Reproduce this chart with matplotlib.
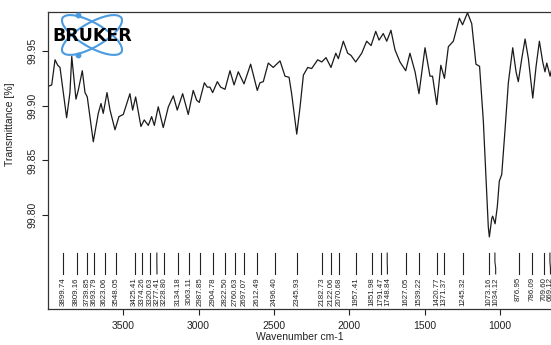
import matplotlib
matplotlib.use("Agg")
import matplotlib.pyplot as plt
import matplotlib.transforms as mtransforms
from matplotlib.patches import Ellipse
import numpy as np

plt.rcParams["font.family"] = ["Liberation Sans", "DejaVu Sans"]

# Spectrum (wavenumber in cm-1, transmittance in %)
wavenumber = [
    3993, 3975, 3953, 3935, 3920, 3876, 3854, 3842, 3825, 3814, 3799, 3772,
    3754, 3739, 3699, 3666, 3648, 3633, 3608, 3588, 3555, 3529, 3500, 3456,
    3438, 3418, 3383, 3361, 3334, 3312, 3294, 3268, 3235, 3201, 3168, 3142,
    3106, 3069, 3036, 3013, 2996, 2962, 2943, 2925, 2907, 2876, 2854, 2825,
    2792, 2765, 2737, 2699, 2655, 2611, 2593, 2571, 2538, 2505, 2460, 2427,
    2400, 2383, 2349, 2327, 2305, 2276, 2250, 2210, 2183, 2155, 2122, 2090,
    2073, 2040, 2011, 1989, 1958, 1918, 1885, 1856, 1825, 1803, 1775, 1752,
    1724, 1697, 1664, 1626, 1598, 1564, 1538, 1498, 1465, 1448, 1420, 1393,
    1369, 1343, 1310, 1270, 1249, 1216, 1188, 1160, 1136, 1111, 1093, 1078,
    1071, 1055, 1049, 1033, 1018, 1005, 989, 967, 945, 916, 894, 879,
    856, 834, 812, 783, 761, 739, 717, 702, 690, 668, 655,
]
transmittance = [
    99.918, 99.919, 99.942, 99.937, 99.935, 99.889, 99.912, 99.945, 99.921, 99.906, 99.914, 99.932,
    99.912, 99.908, 99.867, 99.893, 99.902, 99.893, 99.912, 99.896, 99.878, 99.890, 99.892, 99.911,
    99.896, 99.908, 99.881, 99.887, 99.882, 99.890, 99.882, 99.899, 99.880, 99.899, 99.909, 99.896,
    99.911, 99.892, 99.914, 99.905, 99.903, 99.921, 99.917, 99.917, 99.912, 99.922, 99.917, 99.915,
    99.932, 99.919, 99.931, 99.920, 99.938, 99.914, 99.921, 99.922, 99.939, 99.935, 99.941, 99.927,
    99.926, 99.911, 99.874, 99.899, 99.928, 99.935, 99.934, 99.942, 99.940, 99.944, 99.935, 99.948,
    99.943, 99.959, 99.948, 99.946, 99.940, 99.948, 99.959, 99.955, 99.968, 99.960, 99.966, 99.959,
    99.969, 99.951, 99.940, 99.932, 99.948, 99.931, 99.911, 99.953, 99.927, 99.927, 99.901, 99.937,
    99.925, 99.954, 99.959, 99.980, 99.974, 99.985, 99.975, 99.938, 99.936, 99.886, 99.832, 99.789,
    99.780, 99.797, 99.799, 99.792, 99.808, 99.831, 99.837, 99.878, 99.921, 99.953, 99.931, 99.922,
    99.943, 99.961, 99.943, 99.907, 99.936, 99.959, 99.940, 99.931, 99.939, 99.927, 99.935,
]

# Picked peaks
peak_labels = [
    "3899.74", "3809.16", "3739.85", "3693.79", "3623.06", "3548.05",
    "3425.41", "3374.26", "3320.63", "3277.41", "3228.80", "3134.18",
    "3063.11", "2987.85", "2904.78", "2822.50", "2760.63", "2697.07",
    "2612.49", "2496.40", "2345.93", "2182.73", "2122.06", "2070.68",
    "1957.41", "1851.98", "1791.47", "1748.84", "1627.05", "1539.22",
    "1420.77", "1371.37", "1245.32", "1073.16", "1034.12", "876.95",
    "786.09", "709.60", "669.12",
]
peak_positions = [float(s) for s in peak_labels]

x_ticks = [3500, 3000, 2500, 2000, 1500, 1000]
y_ticks = [99.80, 99.85, 99.90, 99.95]

fig = plt.figure(figsize=(5.51, 3.45), dpi=100)
ax = fig.add_axes([0.0870, 0.1035, 0.9130, 0.8617])

ax.plot(wavenumber, transmittance, color="#1a1a1a", lw=0.9)

ax.set_xlim(4000, 662)
ax.set_ylim(99.7138, 99.9857)
ax.set_xticks(x_ticks)
ax.set_yticks(y_ticks)
ax.set_yticklabels([f"{v:.2f}" for v in y_ticks], rotation=90, va="center")
ax.tick_params(axis="both", direction="out", length=4.5, width=0.8,
               labelsize=7.5, colors="#222222")
ax.tick_params(axis="x", pad=4)
ax.tick_params(axis="y", pad=3)
ax.spines["right"].set_visible(False)
for side in ["left", "top", "bottom"]:
    ax.spines[side].set_linewidth(0.9)
    ax.spines[side].set_color("#333333")

ax.set_xlabel("Wavenumber cm-1", fontsize=7.5, color="#222222", labelpad=1)
ax.set_ylabel("Transmittance [%]", fontsize=7.5, color="#222222")
ax.yaxis.set_label_coords(-0.066, 0.623)

# Peak markers: lines at the peak, label pushed right when crowded
trans = mtransforms.blended_transform_factory(ax.transData, ax.transAxes)
min_sep = 44
label_x = []
for p in peak_positions:
    if label_x and p > label_x[-1] - min_sep:
        label_x.append(label_x[-1] - min_sep)
    else:
        label_x.append(p)

for p, lx, s in zip(peak_positions, label_x, peak_labels):
    ax.plot([p, p, lx, lx], [0.189, 0.159, 0.139, 0.119], transform=trans,
            color="#222222", lw=0.8, clip_on=False)
    ax.text(lx, 0.108, s, transform=trans, rotation=90, ha="center", va="top",
            fontsize=5.7, color="#222222", clip_on=False)

# Bruker logo (drawn in pixel units of the figure)
logo = fig.add_axes([45 / 551, 1 - 60 / 345, 95 / 551, 50 / 345])
logo.set_xlim(45, 140)
logo.set_ylim(60, 10)
logo.axis("off")
blue = "#4a9be0"
for ang in [30, -30]:
    logo.add_patch(Ellipse((92, 35), 68, 24, angle=ang, fill=False,
                           edgecolor=blue, lw=1.5))
logo.plot([78, 78], [15, 55], "o", color=blue, ms=3.2)
logo.text(92.5, 36, "BRUKER", ha="center", va="center", fontsize=12.5,
          fontweight="heavy", family="DejaVu Sans", color="black")

fig.savefig("out.png", dpi=100)
